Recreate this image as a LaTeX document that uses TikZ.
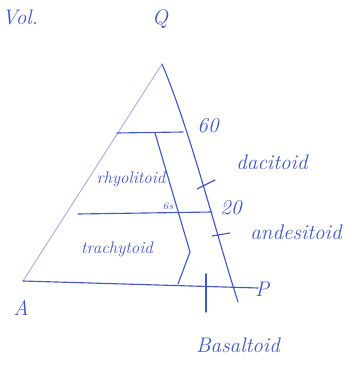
\documentclass[tikz,border=0pt]{standalone}
\usepackage{xcolor}
\usepackage{tikz}
\definecolor{ink}{RGB}{66,86,200}
\definecolor{faintink}{RGB}{160,170,230}
\tikzset{
  pen/.style={thick, ink, line cap=round},
  faint/.style={semithick, faintink, line cap=round},
  hand/.style={ink, font=\fontsize{15}{17}\selectfont\itshape, inner sep=1pt},
  smallhand/.style={ink, font=\fontsize{12}{14}\selectfont\itshape, inner sep=1pt},
}

\begin{document}
\begin{tikzpicture}[x=0.025cm,y=-0.025cm]
\useasboundingbox (0,0) rectangle (355,365);
% corners of the triangle
\coordinate (Qtop) at (162,64);
\coordinate (Acorner) at (23,281);
\coordinate (Pend) at (258,288);
\coordinate (Rend) at (238,302);
% field boundaries
\coordinate (sixtyL) at (117,133);
\coordinate (sixtyR) at (183,132);
\coordinate (twentyL) at (78,214);
\coordinate (twentyR) at (212,212);
\coordinate (splitTop) at (155,133);
\coordinate (splitBend) at (190,252);
\coordinate (splitBot) at (178,284);
% ticks on the right side
\coordinate (daciteA) at (197,189);
\coordinate (daciteB) at (215,180);
\coordinate (andesA) at (212,236);
\coordinate (andesB) at (230,233);
\coordinate (basaltA) at (206,274);
\coordinate (basaltB) at (206,312);
\draw[faint] (Qtop) -- (Acorner);
\draw[pen] (Acorner) -- (Pend);
\draw[pen] (Qtop) .. controls (190,130) and (215,230) .. (Rend);
\draw[pen] (sixtyL) -- (sixtyR);
\draw[pen] (twentyL) -- (twentyR);
\draw[pen] (splitTop) -- (splitBend) -- (splitBot);
\draw[pen] (daciteA) -- (daciteB);
\draw[pen] (andesA) -- (andesB);
\draw[pen] (basaltA) -- (basaltB);
% labels
\node[hand] (vol) at (20,17) {Vol.};
\node[hand] (qlab) at (160,19) {Q};
\node[hand] (alab) at (21,308) {A};
\node[hand] (plab) at (262,289) {P};
\node[hand] (sixty) at (208,126) {60};
\node[hand] (twenty) at (231,208) {20};
\node[hand] (dacite) at (272,162) {dacitoid};
\node[hand] (andes) at (296,232) {andesitoid};
\node[hand] (basalt) at (238,345) {Basaltoid};
\node[smallhand] (rhyo) at (131,179) {rhyolitoid};
\node[smallhand] (trachy) at (117,249) {trachytoid};
\node[ink, font=\scriptsize\itshape, inner sep=0pt] (mark) at (168,206) {6s};
\end{tikzpicture}
\end{document}
